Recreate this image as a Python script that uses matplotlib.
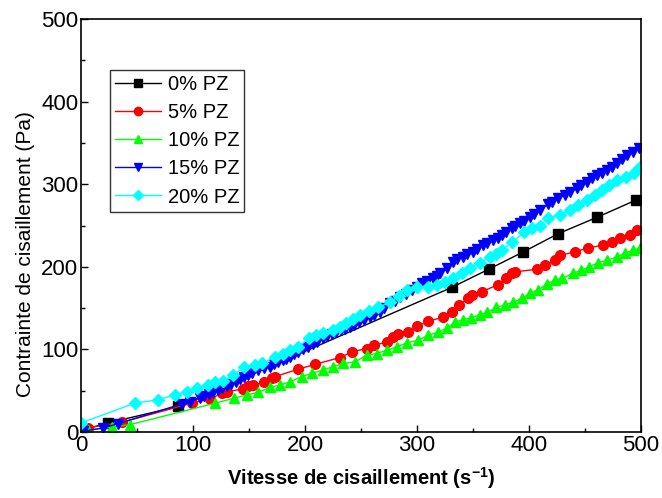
import matplotlib
matplotlib.use('Agg')
import matplotlib.pyplot as plt
from matplotlib.ticker import MultipleLocator

# shear rate (s-1) and shear stress (Pa)
# 0% PZ
x_0 = [3, 24, 87, 331, 364, 395, 426, 461, 496]
y_0 = [3, 11, 31, 175, 197, 218, 240, 260, 281]

# 5% PZ
x_5 = [2, 6, 37, 99, 115, 126, 130, 145, 149, 154, 163, 171, 173, 194, 209,
       231, 242, 255, 262, 273, 279, 283, 292, 300, 310, 323, 331, 338, 346,
       349, 358, 372, 380, 385, 388, 407, 414, 423, 428, 441, 453, 466, 474,
       481, 490, 497]
y_5 = [1, 5, 12, 35, 40, 47, 49, 52, 56, 57, 60, 65, 67, 76, 82,
       90, 97, 101, 105, 109, 115, 119, 121, 128, 134, 139, 145, 154, 162,
       166, 170, 178, 186, 192, 194, 197, 202, 208, 214, 218, 223, 226, 230,
       235, 238, 245]

# 10% PZ
x_10 = [2, 6, 28, 44, 120, 137, 148, 158, 169, 178, 187, 197, 206, 216, 225,
        234, 245, 255, 264, 273, 282, 291, 301, 310, 319, 327, 334, 341, 348,
        356, 363, 371, 379, 386, 394, 401, 408, 416, 423, 430, 439, 447, 454,
        462, 470, 479, 486, 493, 499]
y_10 = [0, 2, 6, 9, 35, 41, 45, 48, 54, 57, 61, 67, 71, 75, 79,
        83, 85, 93, 95, 99, 103, 108, 111, 117, 121, 126, 133, 136, 138,
        142, 145, 151, 154, 157, 162, 168, 172, 179, 184, 186, 192, 196, 200,
        205, 208, 212, 217, 220, 223]

# 15% PZ
x_15 = [2, 20, 33, 90, 97, 106, 110, 114, 118, 122, 126, 130, 134, 138, 142,
        146, 149, 153, 158, 163, 169, 172, 176, 180, 183, 187, 190, 194, 198,
        203, 207, 211, 216, 220, 224, 228, 232, 236, 240, 244, 248, 253, 258,
        262, 267, 271, 276, 280, 285, 290, 296, 300, 305, 309, 314, 318, 321,
        327, 332, 336, 341, 345, 350, 354, 359, 363, 368, 372, 376, 380, 385,
        388, 392, 396, 401, 405, 410, 417, 421, 426, 432, 437, 443, 447, 452,
        456, 461, 465, 470, 474, 479, 483, 488, 493, 498]
y_15 = [1, 5, 10, 34, 36, 41, 44, 46, 48, 51, 53, 56, 58, 61, 64,
        67, 69, 72, 75, 77, 79, 82, 85, 87, 89, 91, 94, 97, 100,
        103, 106, 109, 114, 116, 119, 121, 123, 125, 127, 130, 133, 136, 139,
        142, 145, 150, 156, 159, 163, 167, 172, 176, 180, 183, 186, 189, 192,
        198, 206, 209, 212, 215, 218, 222, 226, 229, 232, 235, 238, 242, 247,
        250, 253, 256, 260, 264, 269, 276, 278, 283, 287, 291, 295, 299, 303,
        307, 311, 314, 317, 321, 326, 330, 335, 339, 344]

# 20% PZ
x_20 = [0, 48, 69, 84, 95, 104, 113, 120, 127, 136, 146, 155, 162, 173, 180,
        187, 194, 204, 210, 216, 225, 231, 237, 243, 249, 257, 265, 276, 284,
        291, 300, 310, 318, 325, 332, 340, 347, 356, 365, 371, 376, 385, 396,
        403, 410, 417, 428, 437, 444, 452, 459, 465, 472, 479, 487, 494, 499]
y_20 = [11, 35, 39, 45, 48, 53, 57, 60, 62, 69, 79, 81, 83, 91, 95,
        99, 103, 114, 117, 120, 123, 127, 132, 137, 142, 146, 151, 157, 165,
        172, 175, 176, 178, 182, 186, 193, 199, 205, 212, 216, 220, 230, 242,
        247, 250, 259, 263, 269, 275, 281, 287, 293, 299, 305, 309, 313, 321]

series_labels = ['0% PZ', '5% PZ', '10% PZ', '15% PZ', '20% PZ']

# font close to Arial
plt.rcParams['font.family'] = ['Liberation Sans', 'DejaVu Sans']
plt.rcParams['mathtext.fontset'] = 'custom'
plt.rcParams['mathtext.rm'] = 'Liberation Sans'
plt.rcParams['mathtext.bf'] = 'Liberation Sans:bold'

fig = plt.figure(figsize=(6.62, 4.98), dpi=100)
ax = fig.add_axes([0.1224, 0.1325, 0.8456, 0.8293])

# draw each series
ax.plot(x_0, y_0, color='black', marker='s', markersize=6.5, linewidth=1,
        label=series_labels[0])
ax.plot(x_5, y_5, color='red', marker='o', markersize=7, linewidth=1,
        label=series_labels[1])
ax.plot(x_10, y_10, color='#00ff00', marker='^', markersize=7.5, linewidth=1,
        label=series_labels[2])
ax.plot(x_15, y_15, color='blue', marker='v', markersize=7.5, linewidth=1,
        label=series_labels[3])
ax.plot(x_20, y_20, color='cyan', marker='D', markersize=6.5, linewidth=1,
        label=series_labels[4])

# axes limits and ticks
ax.set_xlim(0, 500)
ax.set_ylim(0, 500)
ax.xaxis.set_major_locator(MultipleLocator(100))
ax.yaxis.set_major_locator(MultipleLocator(100))
ax.xaxis.set_minor_locator(MultipleLocator(50))
ax.yaxis.set_minor_locator(MultipleLocator(50))
ax.tick_params(which='both', direction='in', top=False, right=False,
               labelsize=16, width=1)
ax.tick_params(which='major', length=5, pad=2)
ax.tick_params(which='minor', length=3)
for spine in ax.spines.values():
    spine.set_linewidth(1.2)

# labels
ax.set_xlabel('Vitesse de cisaillement (s$^{\\mathbf{-1}}$)', fontsize=14.5,
              fontweight='bold', labelpad=7)
ax.set_ylabel('Contrainte de cisaillement (Pa)', fontsize=15)
ax.yaxis.set_label_coords(-0.083, 0.432)

# legend
leg = ax.legend(loc='upper left', bbox_to_anchor=(0.052, 0.876),
                borderaxespad=0, fontsize=14.5, frameon=True, fancybox=False,
                handlelength=2.3, handletextpad=0.3, labelspacing=0.45,
                borderpad=0.25, markerscale=0.85)
leg.get_frame().set_edgecolor('black')
leg.get_frame().set_linewidth(1)

fig.savefig('out.png', dpi=100)
